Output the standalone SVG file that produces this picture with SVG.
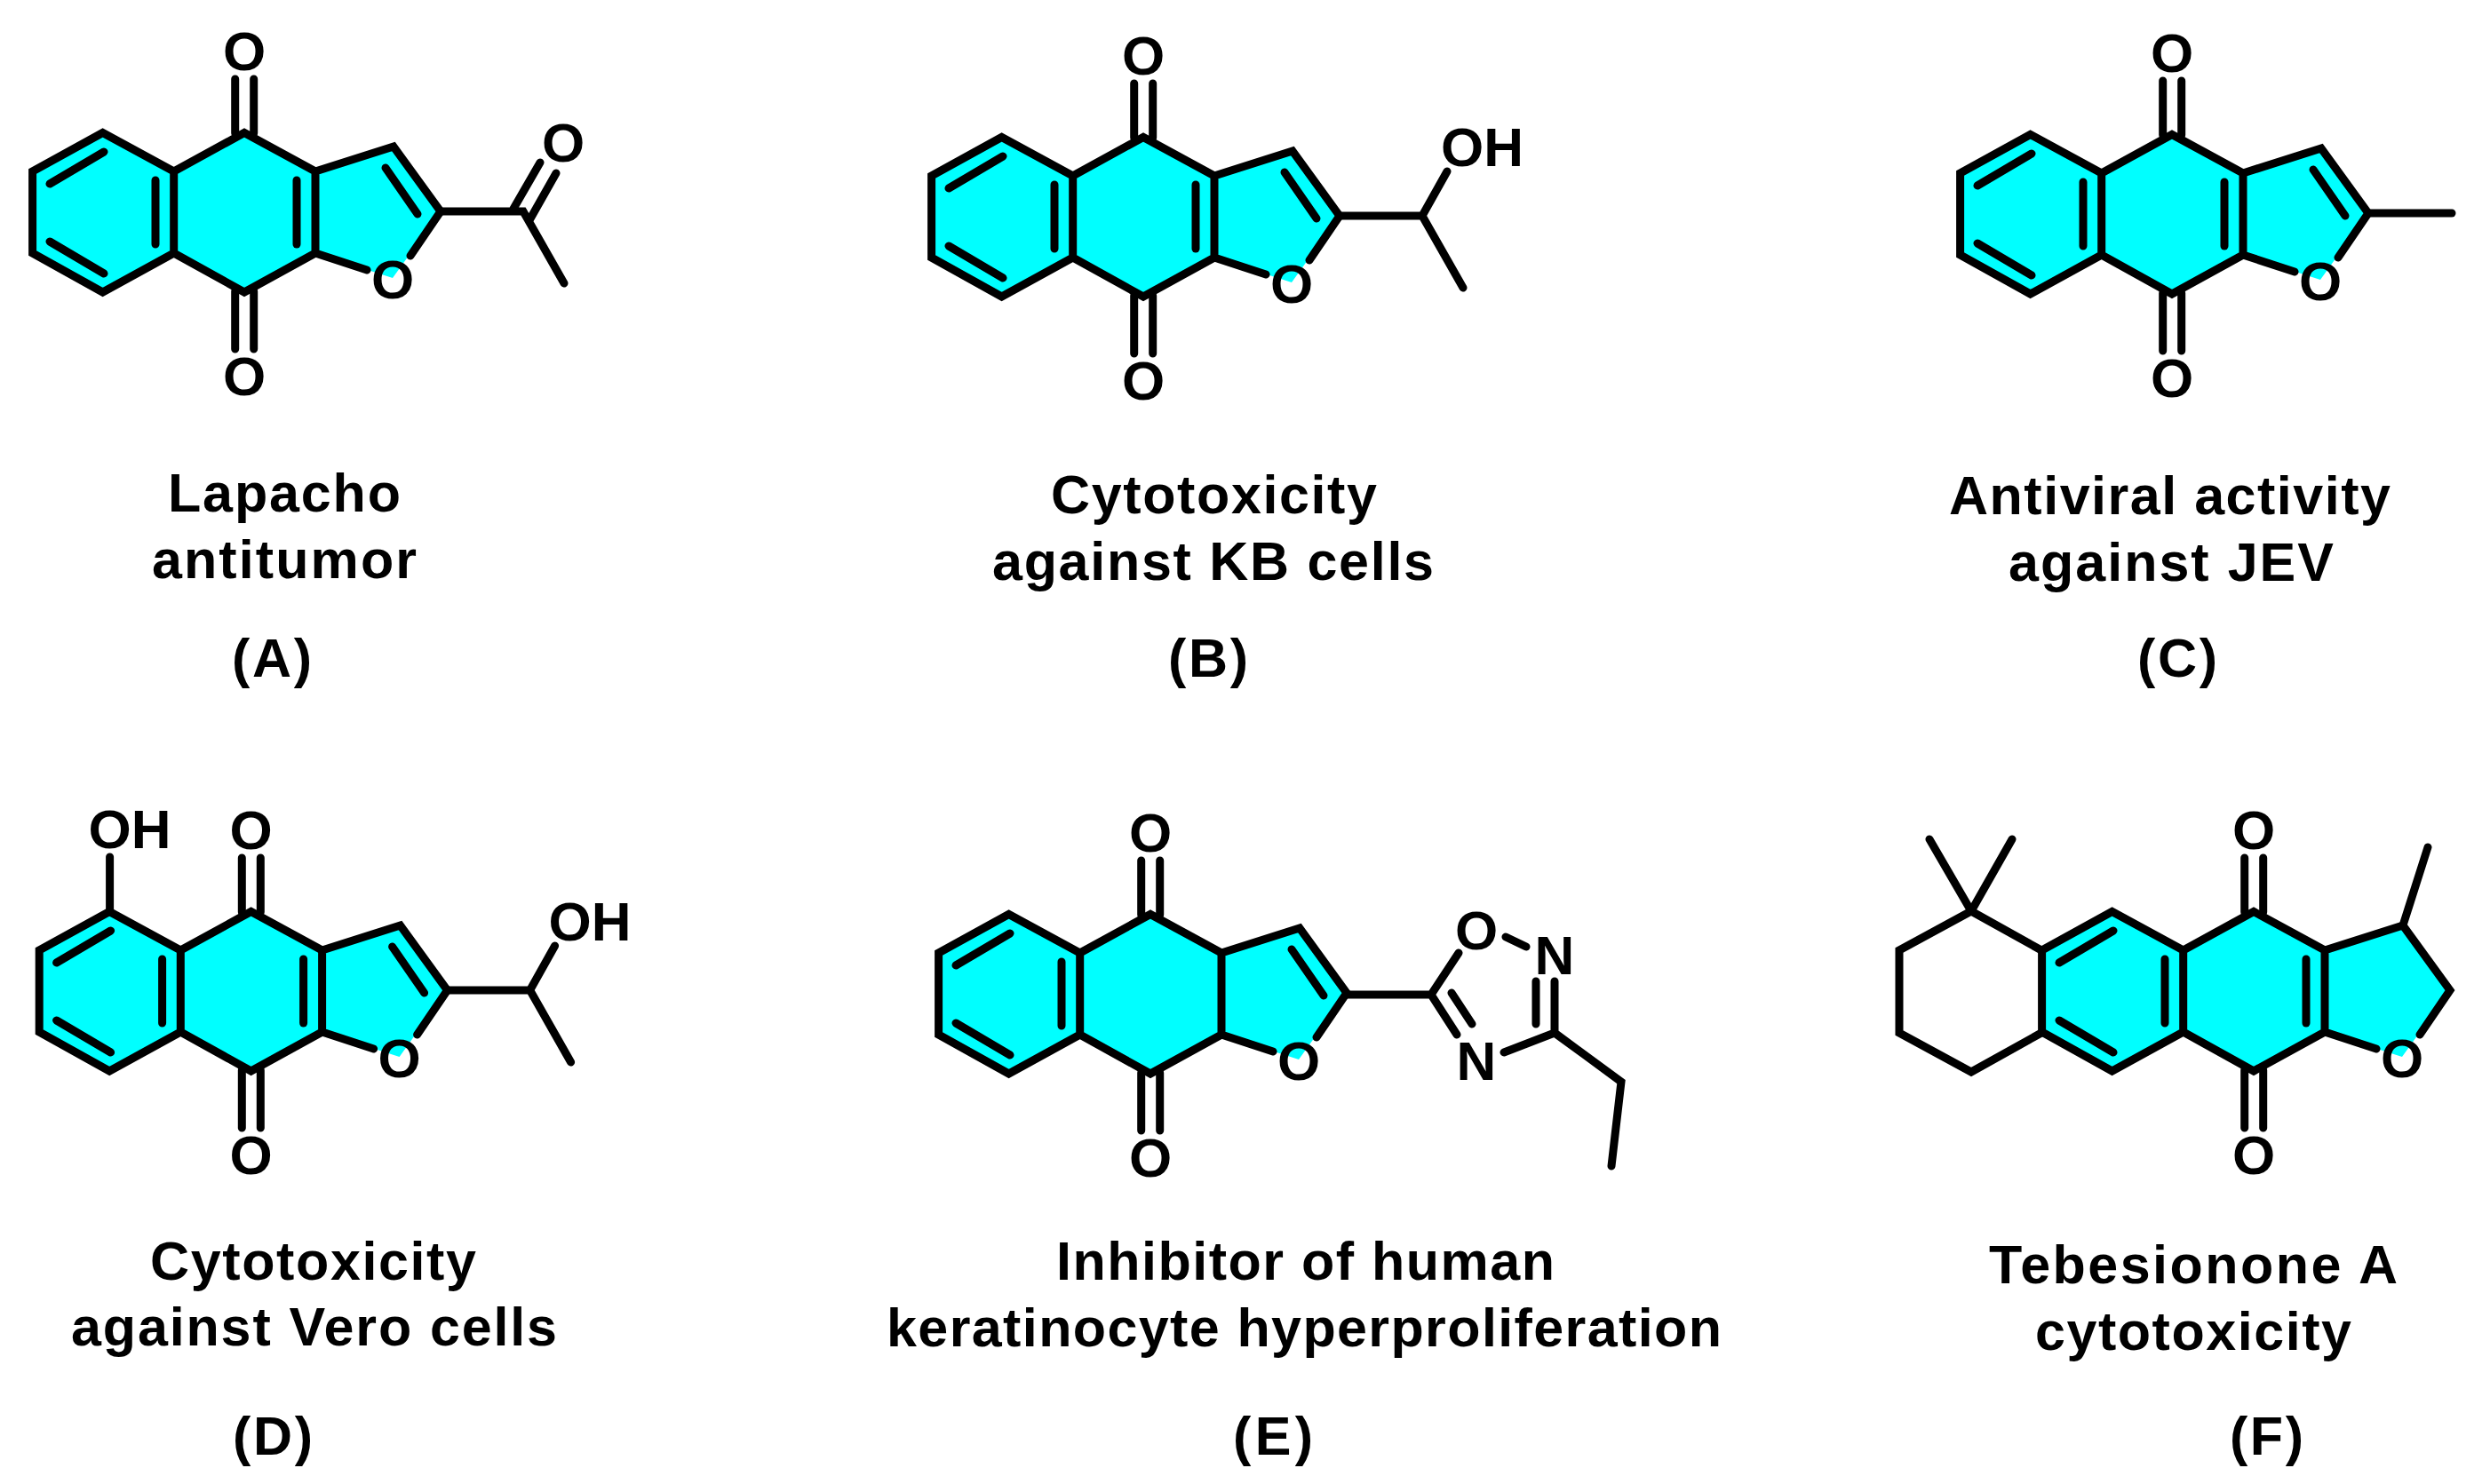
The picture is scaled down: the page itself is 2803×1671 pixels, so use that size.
<svg xmlns="http://www.w3.org/2000/svg" xmlns:xlink="http://www.w3.org/1999/xlink" width="2803" height="1671" viewBox="0 0 2803 1671">
<style>
.b{fill:none;stroke:#000;stroke-width:9;stroke-linecap:round;stroke-linejoin:miter}
.f{fill:#00ffff;stroke:none}
.a{font-family:"Liberation Sans",Arial,sans-serif;font-weight:700;font-size:62px;fill:#000;text-anchor:middle}
.o{font-family:"Liberation Sans",Arial,sans-serif;font-weight:700;font-size:62px;fill:#000}
.t{font-family:"Liberation Sans",Arial,sans-serif;font-weight:700;font-size:61px;fill:#000}
</style>
<defs>
<g id="core">
<path class="f" d="M36.6 193L115.6 149.5L195.7 193L275 149.5L355 193L443 165L496 238L442 313L355 285L275 329L195.7 285L115.6 329L36.6 285Z"/>
<path class="b" d="M195.7 193L115.6 149.5L36.6 193V285L115.6 329L195.7 285ZM195.7 193L275 149.5L355 193V285L275 329L195.7 285M355 193L443 165L496 238L462 288M355 285L413 304"/>
<path class="b" d="M175 203V275M117 171L56 207M56 272L117 308M264.7 89V150M285.7 89V150M264.7 328V393M285.7 328V393"/>
<text class="a" x="275" y="79">O</text>
<text class="a" x="275" y="445">O</text>
<text class="a" x="442" y="336">O</text>
</g>
<path id="rin" class="b" d="M334 203V275"/>
<path id="fin" class="b" d="M434 189L470 241"/>
<g id="hoet">
<path class="b" d="M496 238H589L617 188M589 238L635 319"/>
<text class="o" x="610" y="182">OH</text>
</g>
</defs>

<g id="connectors"></g>

<g id="mol-A">
<use href="#core" xlink:href="#core"/><use href="#rin" xlink:href="#rin"/><use href="#fin" xlink:href="#fin"/>
<path class="b" d="M496 238H589L635 319M578 235L608 183M596 248L626 195"/>
<text class="a" x="634" y="182">O</text>
<text class="t" x="189" y="576" textLength="262">Lapacho</text>
<text class="t" x="171" y="651" textLength="298">antitumor</text>
<text class="t" x="261" y="762" textLength="90">(A)</text>
</g>

<g id="mol-B">
<g transform="translate(1012 5)"><use href="#core" xlink:href="#core"/><use href="#rin" xlink:href="#rin"/><use href="#fin" xlink:href="#fin"/><use href="#hoet" xlink:href="#hoet"/></g>
<text class="t" x="1183" y="578" textLength="367">Cytotoxicity</text>
<text class="t" x="1117" y="653" textLength="497">against KB cells</text>
<text class="t" x="1315" y="762" textLength="90">(B)</text>
</g>

<g id="mol-C">
<g transform="translate(2170 2)"><use href="#core" xlink:href="#core"/><use href="#rin" xlink:href="#rin"/><use href="#fin" xlink:href="#fin"/>
<path class="b" d="M496 238H590"/>
</g>
<text class="t" x="2194" y="579" textLength="497">Antiviral activity</text>
<text class="t" x="2261" y="654" textLength="366">against JEV</text>
<text class="t" x="2406" y="762" textLength="90">(C)</text>
</g>

<g id="mol-D">
<g transform="translate(7.6 877)"><use href="#core" xlink:href="#core"/><use href="#rin" xlink:href="#rin"/><use href="#fin" xlink:href="#fin"/><use href="#hoet" xlink:href="#hoet"/>
<path class="b" d="M116 150V88"/>
<text class="o" x="92" y="78">OH</text>
</g>
<text class="t" x="169" y="1441" textLength="367">Cytotoxicity</text>
<text class="t" x="80" y="1515" textLength="547">against Vero cells</text>
<text class="t" x="262" y="1638" textLength="90">(D)</text>
</g>

<g id="mol-E">
<g transform="translate(1020 880)"><use href="#core" xlink:href="#core"/><use href="#fin" xlink:href="#fin"/>
<path class="b" d="M496 240H591L622 193M675 175L698 186M730 225V283M709 225V273M730 283L673 305M730 283L805 338L794 433M591 240L620 285M614 238L637 273"/>
<text class="a" x="642" y="189">O</text>
<text class="a" x="730" y="217">N</text>
<text class="a" x="642" y="336">N</text>
</g>
<text class="t" x="1189" y="1441" textLength="561">Inhibitor of human</text>
<text class="t" x="998" y="1516" textLength="940">keratinocyte hyperproliferation</text>
<text class="t" x="1388" y="1638" textLength="90">(E)</text>
</g>

<g id="mol-F">
<g transform="translate(2262 877)"><use href="#core" xlink:href="#core"/><use href="#rin" xlink:href="#rin"/></g>
<path class="b" d="M2298 1070L2219 1026L2138 1070V1163L2219 1207L2298 1163M2219 1026L2172 945M2219 1026L2265 945M2705 1042L2733 954"/>
<text class="t" x="2239" y="1445" textLength="460">Tebesionone A</text>
<text class="t" x="2291" y="1520" textLength="356">cytotoxicity</text>
<text class="t" x="2510" y="1638" textLength="83">(F)</text>
</g>
</svg>
